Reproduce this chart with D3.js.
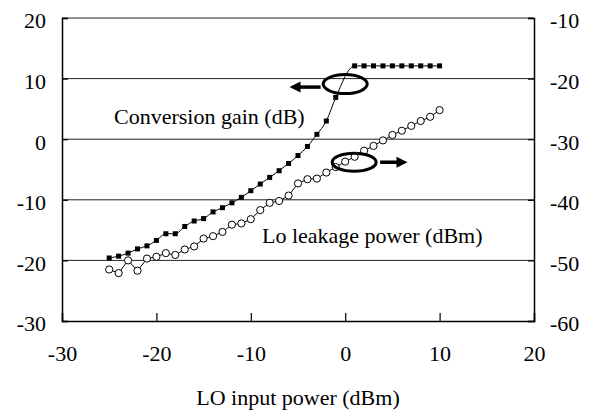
<!DOCTYPE html>
<html>
<head>
<meta charset="utf-8">
<script src="https://cdn.jsdelivr.net/npm/d3@7"></script>
<style>
  html, body { margin: 0; padding: 0; background: #fff; }
  svg text { font-family: "Liberation Serif", "Times New Roman", Tinos, "DejaVu Serif", serif !important; fill: #000; }
</style>
</head>
<body>
<svg id="chart" width="590" height="416"></svg>
<script>
// ---- data ----
const loPower = [-25,-24,-23,-22,-21,-20,-19,-18,-17,-16,-15,-14,-13,-12,-11,-10,-9,-8,-7,-6,-5,-4,-3,-2,-1,0,1,2,3,4,5,6,7,8,9,10];
const gainX = [-25,-24,-23,-22,-21,-20,-19,-18,-17,-16,-15,-14,-13,-12,-11,-10,-9,-8,-7,-6,-5,-4,-3,-2,-1,1,2,3,4,5,6,7,8,9,10];
const gainDb = [-19.6,-19.3,-18.8,-18.1,-17.6,-16.7,-15.6,-15.6,-14.4,-13.5,-13.1,-12.0,-11.3,-10.5,-9.6,-8.5,-7.4,-6.3,-5.2,-4.0,-2.7,-1.2,0.8,3.0,6.9,12.1,12.1,12.1,12.1,12.1,12.1,12.1,12.1,12.1,12.1];
const leakageDbm = [-51.5,-52.1,-50.0,-51.7,-49.7,-49.4,-48.8,-49.1,-48.2,-47.7,-46.4,-46.0,-45.3,-44.1,-43.9,-43.2,-41.7,-40.5,-40.2,-39.3,-37.3,-36.6,-36.5,-35.5,-34.6,-33.7,-32.9,-31.9,-31.1,-30.2,-29.3,-28.6,-27.8,-27.0,-26.3,-25.2];
const xTicks = [-30,-20,-10,0,10,20];
const leftTicks = [-30,-20,-10,0,10,20];
const rightTicks = [-60,-50,-40,-30,-20,-10];
const gridValues = [-20,-10,0,10];
const xTitle = "LO input power (dBm)";
const gainLabel = "Conversion gain (dB)";
const leakLabel = "Lo leakage power (dBm)";

// ---- layout ----
const L = 62, R = 534, T = 18, B = 321;
const svg = d3.select("#chart");
const x = d3.scaleLinear([-30, 20], [L, R]);
const yL = d3.scaleLinear([-30, 20], [B, T]);
const yR = d3.scaleLinear([-60, -10], [B, T]);
const FONT = '"Liberation Serif", "Times New Roman", Tinos, "DejaVu Serif", serif';

// gridlines
svg.append("g").selectAll("line").data(gridValues).join("line")
  .attr("x1", L).attr("x2", R)
  .attr("y1", d => yL(d)).attr("y2", d => yL(d))
  .attr("stroke", "#222").attr("stroke-width", 1);
// top border
svg.append("line").attr("x1", L).attr("x2", R).attr("y1", T).attr("y2", T)
  .attr("stroke", "#222").attr("stroke-width", 1);

// axes
const fs = "22px";
const gL = svg.append("g").attr("transform", `translate(${L},0)`)
  .call(d3.axisLeft(yL).tickValues(leftTicks).tickSize(-6).tickPadding(16).tickFormat(d3.format("d")));
const gR = svg.append("g").attr("transform", `translate(${R},0)`)
  .call(d3.axisRight(yR).tickValues(rightTicks).tickSize(-6).tickPadding(16).tickFormat(d3.format("d")));
const gB = svg.append("g").attr("transform", `translate(0,${B})`)
  .call(d3.axisBottom(x).tickValues(xTicks).tickSize(-8).tickPadding(24).tickFormat(d3.format("d")));
[gL, gR, gB].forEach(g => {
  g.attr("font-family", FONT).attr("font-size", 22);
  g.select(".domain").attr("stroke", "#000").attr("stroke-width", 1.5);
  g.selectAll(".tick line").attr("stroke", "#000").attr("stroke-width", 1.2);
  g.selectAll(".tick text").attr("font-family", FONT).attr("font-size", 22)
    .text(d => String(d).replace("−", "-"));
});
gL.selectAll(".tick text").attr("dy", "0.45em");
gR.selectAll(".tick text").attr("dy", "0.45em");
gB.selectAll(".tick text").attr("dy", "0.71em");

// series: leakage (right axis), open circles, straight line
const leak = loPower.map((p, i) => [p, leakageDbm[i]]);
svg.append("path").datum(leak)
  .attr("fill", "none").attr("stroke", "#000").attr("stroke-width", 1)
  .attr("d", d3.line().x(d => x(d[0])).y(d => yR(d[1])));
svg.append("g").selectAll("circle").data(leak).join("circle")
  .attr("cx", d => x(d[0])).attr("cy", d => yR(d[1])).attr("r", 3.6)
  .attr("fill", "#fff").attr("stroke", "#000").attr("stroke-width", 1);

// series: gain (left axis), filled squares, smooth line
const gain = gainX.map((p, i) => [p, gainDb[i]]);
svg.append("path").datum(gain)
  .attr("fill", "none").attr("stroke", "#000").attr("stroke-width", 1)
  .attr("d", d3.line().curve(d3.curveMonotoneX).x(d => x(d[0])).y(d => yL(d[1])));
const sq = 5;
svg.append("g").selectAll("rect").data(gain).join("rect")
  .attr("x", d => x(d[0]) - sq / 2).attr("y", d => yL(d[1]) - sq / 2)
  .attr("width", sq).attr("height", sq).attr("fill", "#000");

// annotations: ellipses and arrows
svg.append("ellipse").attr("cx", x(0)).attr("cy", yL(9.1)).attr("rx", 22).attr("ry", 9.5)
  .attr("fill", "none").attr("stroke", "#000").attr("stroke-width", 3);
svg.append("ellipse").attr("cx", x(0.95)).attr("cy", yR(-33.8)).attr("rx", 22).attr("ry", 9)
  .attr("fill", "none").attr("stroke", "#000").attr("stroke-width", 3);

function arrow(x1, y1, x2, y2) {
  const dir = Math.sign(x2 - x1);
  svg.append("line").attr("x1", x1).attr("y1", y1).attr("x2", x2 - dir * 8).attr("y2", y2)
    .attr("stroke", "#000").attr("stroke-width", 3.5);
  svg.append("path").attr("d", `M${x2},${y2} L${x2 - dir * 11},${y2 - 5.5} L${x2 - dir * 11},${y2 + 5.5} Z`)
    .attr("fill", "#000");
}
arrow(x(-2.6), yL(8.6), x(-5.9), yL(8.6));
arrow(x(3.7), yR(-33.8), x(6.6), yR(-33.8));

// labels
svg.append("text").attr("x", 114).attr("y", 124).attr("font-family", FONT).attr("font-size", 22).text(gainLabel);
svg.append("text").attr("x", 262).attr("y", 243).attr("font-family", FONT).attr("font-size", 22).text(leakLabel);
svg.append("text").attr("x", (L + R) / 2).attr("y", 405).attr("text-anchor", "middle")
  .attr("font-family", FONT).attr("font-size", 22).text(xTitle);
</script>
</body>
</html>
